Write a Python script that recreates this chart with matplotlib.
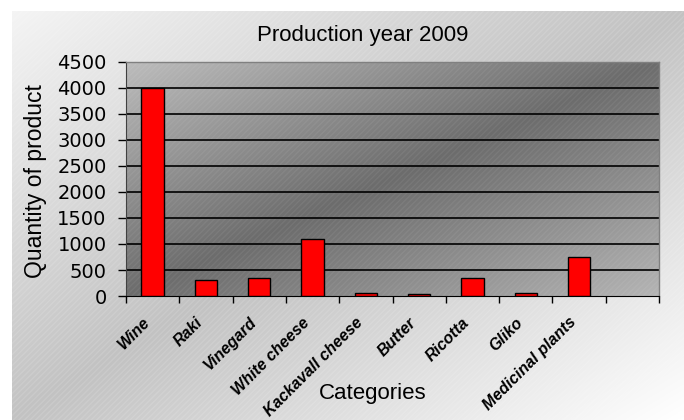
import numpy as np
import matplotlib.pyplot as plt
from matplotlib.colors import LinearSegmentedColormap
from matplotlib.patches import Rectangle

# chart data (the last slot on the category axis is empty)
categories = ["Wine", "Raki", "Vinegard", "White cheese", "Kackavall cheese",
              "Butter", "Ricotta", "Gliko", "Medicinal plants", ""]
quantities = [4000, 300, 350, 1100, 50, 40, 350, 50, 750, 0]
y_ticks = [0, 500, 1000, 1500, 2000, 2500, 3000, 3500, 4000, 4500]

plt.rcParams['font.family'] = ['Liberation Sans', 'DejaVu Sans']

fig = plt.figure(figsize=(6.84, 4.2), dpi=100)
fig.patch.set_facecolor('white')


def diag_gradient(ax, c0, c1, c2, zorder=-10):
    # light -> dark -> light along the top-left / bottom-right diagonal
    cmap = LinearSegmentedColormap.from_list('g', [c0, c1, c2])
    u = np.linspace(0, 1, 300)
    uu, vv = np.meshgrid(u, u)
    t = (uu + vv) / 2.0
    ax.imshow(t, cmap=cmap, extent=(0, 1, 0, 1), origin='upper',
              aspect='auto', transform=ax.transAxes, zorder=zorder,
              interpolation='bilinear', vmin=0, vmax=1)


# outer chart area
bg = fig.add_axes([12 / 684, 0, 672 / 684, 409 / 420], zorder=-5)
bg.set_xlim(0, 1)
bg.set_ylim(0, 1)
diag_gradient(bg, '#f4f4f4', '#c2c2c2', '#ffffff')
bg.add_patch(Rectangle((0, 0), 1, 1, transform=bg.transAxes, fill=False,
                       hatch='//////', edgecolor=(1, 1, 1, 0.12), lw=0))
bg.axis('off')

# plot area
ax = fig.add_axes([126 / 684, 124 / 420, 533 / 684, 234 / 420])
x = np.arange(len(categories))
ax.set_xlim(-0.5, len(categories) - 0.5)
ax.set_ylim(0, 4500)
diag_gradient(ax, '#bcbcbc', '#6c6c6c', '#b4b4b4')
ax.add_patch(Rectangle((0, 0), 1, 1, transform=ax.transAxes, fill=False,
                       hatch='//////', edgecolor=(1, 1, 1, 0.06), lw=0,
                       zorder=-9))

for yv in y_ticks[1:-1]:
    ax.axhline(yv, color='black', lw=1.2, zorder=1)

used = [i for i, c in enumerate(categories) if c]
ax.bar(x[used], [quantities[i] for i in used], width=0.42, color='#ff0000',
       edgecolor='black', linewidth=1, zorder=3)

ax.set_yticks(y_ticks)
ax.set_yticklabels([str(v) for v in y_ticks], fontsize=14,
                   family='DejaVu Sans')
ax.set_xticks(np.arange(len(categories) + 1) - 0.5)
ax.set_xticklabels([])
ax.tick_params(axis='x', direction='out', length=5, width=1, color='black')
ax.tick_params(axis='y', direction='out', length=6, width=1, color='black',
               pad=8)

xtrans = ax.get_xaxis_transform()
for xi, name in zip(x, categories):
    ax.text(xi - 0.2, -0.08, name, rotation=45, ha='right', va='top',
            rotation_mode='anchor', fontsize=11.5, fontweight='bold',
            fontstyle='italic', transform=xtrans, clip_on=False)

for side in ['top', 'right']:
    ax.spines[side].set_color('#808080')
    ax.spines[side].set_linewidth(1)
ax.spines['left'].set_color('#404040')
ax.spines['bottom'].set_color('black')

fig.text(36 / 684, 1 - 181 / 420, "Quantity of product", fontsize=16.5,
         rotation=90, ha='center', va='center')
fig.text(362.5 / 684, 1 - 36 / 420, "Production year 2009", fontsize=16,
         ha='center', va='center')
fig.text(373 / 684, 1 - 394 / 420, "Categories", fontsize=16,
         ha='center', va='center')

fig.savefig("out.png", dpi=100)
